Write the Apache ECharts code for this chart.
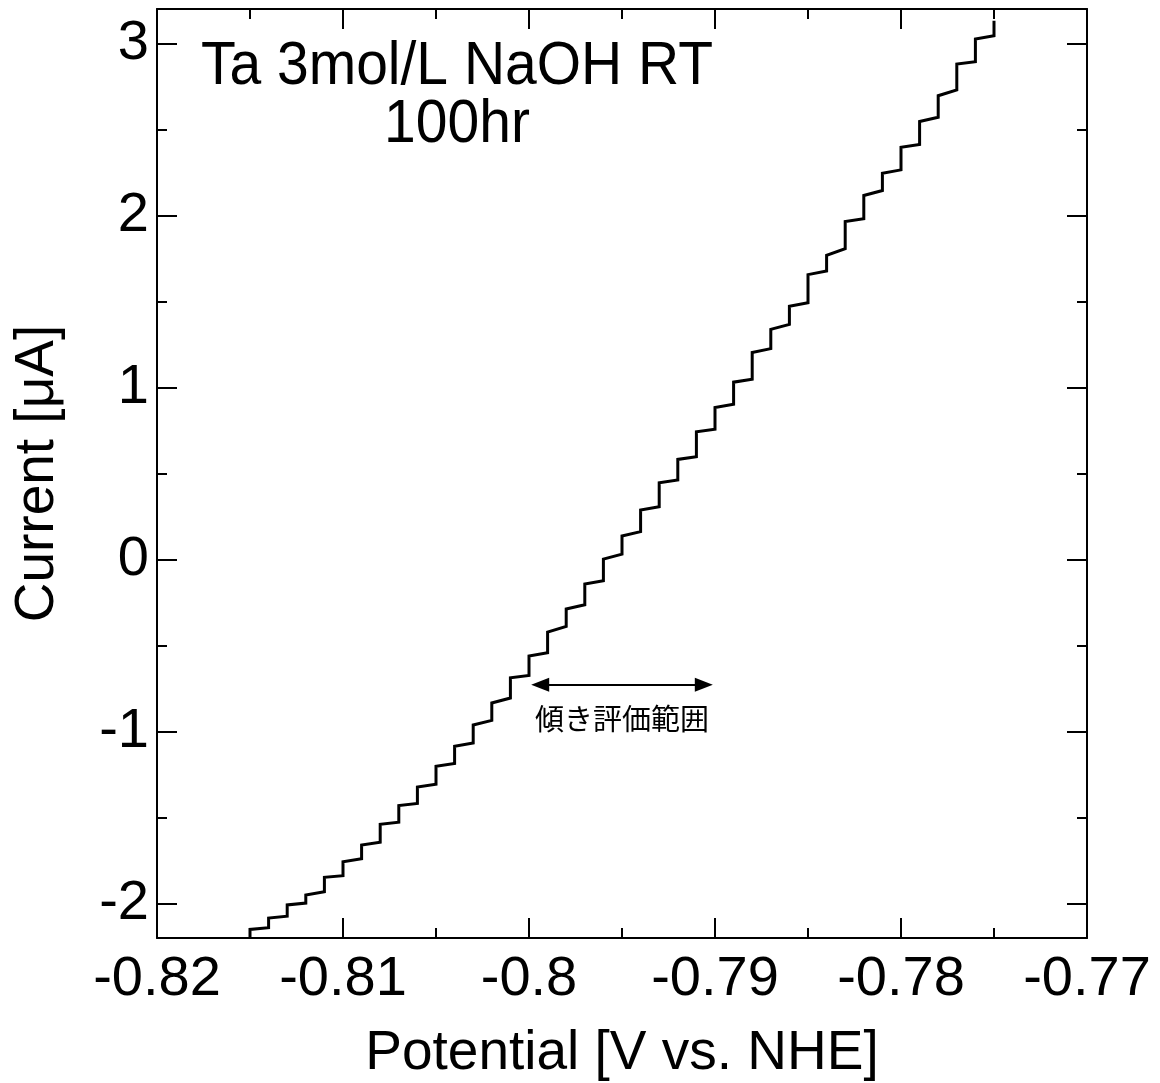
<!DOCTYPE html>
<html>
<head>
<meta charset="utf-8">
<script src="https://cdn.jsdelivr.net/npm/echarts@6/dist/echarts.min.js"></script>
<style>
html,body{margin:0;padding:0;background:#fff;}
#chart{width:1160px;height:1083px;}
</style>
</head>
<body>
<div id="chart"></div>
<script>
// Step potentials [V vs. NHE] where the current jumps
var potentials = [-0.815, -0.814, -0.813, -0.812, -0.811, -0.810, -0.809, -0.808, -0.807, -0.806,
  -0.805, -0.804, -0.803, -0.802, -0.801, -0.800, -0.799, -0.798, -0.797, -0.796,
  -0.795, -0.794, -0.793, -0.792, -0.791, -0.790, -0.789, -0.788, -0.787, -0.786,
  -0.785, -0.784, -0.783, -0.782, -0.781, -0.780, -0.779, -0.778, -0.777, -0.776, -0.775];
// Current [uA] at the start of each plateau (top of each jump)
var plateauStart = [-2.150, -2.084, -2.008, -1.950, -1.847, -1.757, -1.660, -1.539, -1.430, -1.322,
  -1.202, -1.086, -0.962, -0.834, -0.688, -0.561, -0.422, -0.288, -0.142, 0.002,
  0.137, 0.288, 0.446, 0.582, 0.742, 0.884, 1.031, 1.203, 1.338, 1.472,
  1.656, 1.768, 1.965, 2.116, 2.245, 2.396, 2.546, 2.696, 2.880, 3.026, 3.132];
// Current [uA] at the end of each plateau (just before the next jump)
var plateauEnd = [-2.140, -2.073, -1.997, -1.931, -1.838, -1.739, -1.643, -1.527, -1.418, -1.306,
  -1.186, -1.066, -0.935, -0.805, -0.674, -0.542, -0.389, -0.263, -0.124, 0.031,
  0.162, 0.307, 0.462, 0.597, 0.758, 0.903, 1.048, 1.226, 1.367, 1.493,
  1.677, 1.807, 1.981, 2.145, 2.265, 2.412, 2.571, 2.730, 2.894, 3.045];
var startCurrent = -2.2;

var xMajorTicks = [-0.82, -0.81, -0.80, -0.79, -0.78, -0.77];
var xMajorLabels = ['-0.82', '-0.81', '-0.8', '-0.79', '-0.78', '-0.77'];
var xMinorTicks = [-0.815, -0.805, -0.795, -0.785, -0.775];
var yMajorTicks = [-2, -1, 0, 1, 2, 3];
var yMinorTicks = [-1.5, -0.5, 0.5, 1.5, 2.5];

var xRange = [-0.82, -0.77];
var yRange = [-2.2, 3.2];

var arrowRange = [-0.7994, -0.7906];
var arrowCurrent = -0.728;
var arrowText = '傾き評価範囲';
var titleText = 'Ta 3mol/L NaOH RT\n100hr';

// build staircase
var lineData = [[potentials[0], startCurrent]];
for (var k = 0; k < potentials.length; k++) {
  lineData.push([potentials[k], plateauStart[k]]);
  if (k < plateauEnd.length) lineData.push([potentials[k + 1], plateauEnd[k]]);
}

var FONT = '"Liberation Sans", Arial, sans-serif';
var black = '#000';

function xAx(gridIndex, pos, ticks, len, withLine, withLabel) {
  var xMap = {};
  xMajorTicks.forEach(function (v, i) { xMap[v.toFixed(3)] = xMajorLabels[i]; });
  return {
    type: 'value', gridIndex: gridIndex, position: pos, min: xRange[0], max: xRange[1],
    splitLine: {show: false},
    axisLine: {show: withLine, onZero: false, lineStyle: {color: black, width: 2}},
    axisTick: {show: true, inside: true, length: len, customValues: ticks, lineStyle: {color: black, width: 2}},
    axisLabel: withLabel ? {show: true, customValues: xMajorTicks, color: black, fontSize: 56, fontFamily: FONT, margin: 14,
      formatter: function (v) { return xMap[v.toFixed(3)] || ''; }} : {show: false},
    name: withLabel ? 'Potential [V vs. NHE]' : '',
    nameLocation: 'middle', nameGap: 88,
    nameTextStyle: {color: black, fontSize: 55, fontFamily: FONT}
  };
}
function yAx(gridIndex, pos, ticks, len, withLine, withLabel) {
  return {
    type: 'value', gridIndex: gridIndex, position: pos, min: yRange[0], max: yRange[1],
    splitLine: {show: false},
    axisLine: {show: withLine, onZero: false, lineStyle: {color: black, width: 2}},
    axisTick: {show: true, inside: true, length: len, customValues: ticks, lineStyle: {color: black, width: 2}},
    axisLabel: withLabel ? {show: true, customValues: yMajorTicks, color: black, fontSize: 56, fontFamily: FONT, margin: 8,
      formatter: function (v) { return String(Math.round(v)); }} : {show: false},
    name: withLabel ? 'Current [μA]' : '',
    nameLocation: 'middle', nameGap: 92, nameRotate: 90,
    nameTextStyle: {color: black, fontSize: 55, fontFamily: FONT}
  };
}

var gridBox = {left: 157, right: 73, top: 9, bottom: 145, containLabel: false, outerBoundsMode: 'none'};

var chart = echarts.init(document.getElementById('chart'), null, {renderer: 'canvas'});
chart.setOption({
  backgroundColor: '#fff',
  animation: false,
  grid: [Object.assign({}, gridBox), Object.assign({}, gridBox)],
  xAxis: [
    xAx(0, 'bottom', xMajorTicks, 20, true, true),
    xAx(0, 'top', xMajorTicks, 20, true, false),
    xAx(1, 'bottom', xMinorTicks, 10, false, false),
    xAx(1, 'top', xMinorTicks, 10, false, false)
  ],
  yAxis: [
    yAx(0, 'left', yMajorTicks, 20, true, true),
    yAx(0, 'right', yMajorTicks, 20, true, false),
    yAx(1, 'left', yMinorTicks, 10, false, false),
    yAx(1, 'right', yMinorTicks, 10, false, false)
  ],
  graphic: [{
    type: 'text', x: 457, y: 38, z: 100, scaleY: 1.06,
    style: {text: titleText, font: '57px ' + FONT, textAlign: 'center', textVerticalAlign: 'top', lineHeight: 55, fill: black}
  }],
  series: [{
    type: 'line', xAxisIndex: 0, yAxisIndex: 0,
    data: lineData, showSymbol: false, symbol: 'none', clip: true,
    lineStyle: {color: black, width: 3, join: 'miter'},
    markLine: {
      silent: true, animation: false,
      symbol: ['triangle', 'triangle'], symbolSize: [14, 18],
      lineStyle: {color: black, width: 2, type: 'solid'},
      label: {show: true, position: 'insideMiddleBottom', formatter: arrowText, color: black,
        fontSize: 29, fontFamily: '"Noto Sans CJK JP", sans-serif', distance: 20},
      data: [[{coord: [arrowRange[0], arrowCurrent]}, {coord: [arrowRange[1], arrowCurrent]}]]
    }
  }]
});
</script>
</body>
</html>
